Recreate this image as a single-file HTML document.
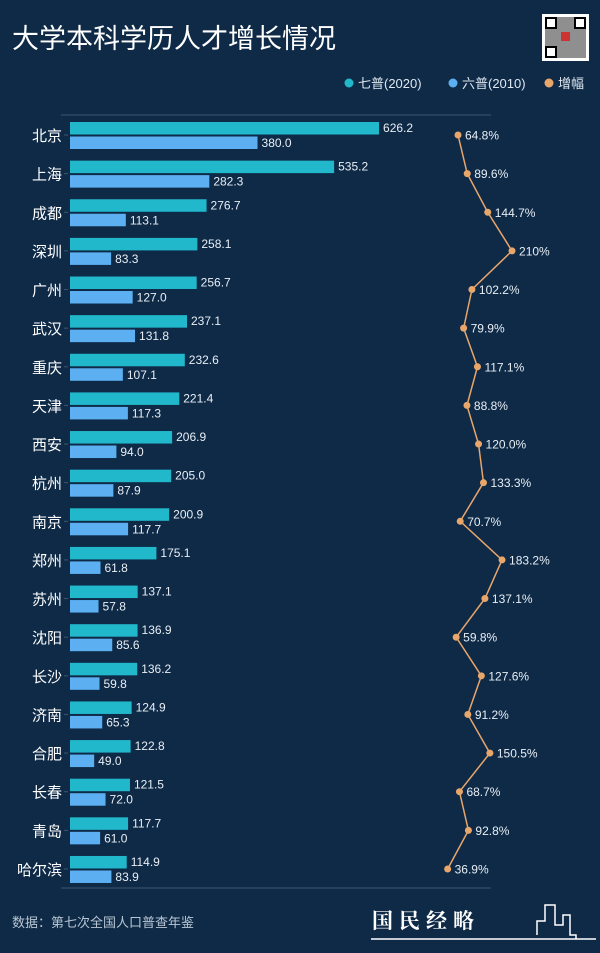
<!DOCTYPE html>
<html><head><meta charset="utf-8">
<style>
html,body{margin:0;padding:0;background:#0e2a47;}
body{width:600px;height:948px;overflow:hidden;font-family:"Liberation Sans","Noto Sans CJK SC",sans-serif;}
</style></head>
<body>
<svg width="600" height="948" xmlns="http://www.w3.org/2000/svg" id="chart">
<rect x="0" y="0" width="600" height="948" fill="#0e2a47"/>
<text x="12" y="48" fill="#ffffff" font-size="27" font-family="Noto Sans CJK SC, sans-serif">大学本科学历人才增长情况</text>
<g>
<rect x="542" y="14" width="47" height="47" fill="#fff"/>
<rect x="545" y="17" width="41" height="41" fill="#333" opacity="0.55"/>
<rect x="546" y="18" width="10" height="10" fill="#fff" stroke="#000" stroke-width="2"/>
<rect x="575" y="18" width="10" height="10" fill="#fff" stroke="#000" stroke-width="2"/>
<rect x="546" y="47" width="10" height="10" fill="#fff" stroke="#000" stroke-width="2"/>
<rect x="561" y="32" width="9" height="9" fill="#c33"/>
</g>
<g font-size="13" fill="#dfe8f0">
<g><circle cx="349" cy="83" r="4.5" fill="#22b8cc"/><text x="358" y="88">七普(2020)</text></g>
<g><circle cx="453" cy="83" r="4.5" fill="#5cb0f2"/><text x="462" y="88">六普(2010)</text></g>
<g><circle cx="549" cy="83" r="4.5" fill="#e9a66b"/><text x="558" y="88">增幅</text></g>
</g>
<line x1="61" y1="115" x2="491" y2="115" stroke="#3b5670" stroke-width="1"/>
<line x1="61" y1="888" x2="491" y2="888" stroke="#3b5670" stroke-width="1"/>
<g id="bars"></g>
<g id="growth"></g>
<text x="12" y="927" fill="#b9c6d3" font-size="13">数据：第七次全国人口普查年鉴</text>
<g>
<text x="372" y="928" fill="#ffffff" font-size="21" font-weight="bold" letter-spacing="6" font-family="Noto Serif CJK SC, serif">国民经略</text>
<line x1="371" y1="939" x2="596" y2="939" stroke="#fff" stroke-width="1.5"/>
<polyline points="537,935 537,921 545,921 545,905 555,905 555,925 563,925 563,915 570,915 570,935 576,935 576,939" fill="none" stroke="#fff" stroke-width="1.5"/>
</g>
</svg>
<script>
const cities=["北京","上海","成都","深圳","广州","武汉","重庆","天津","西安","杭州","南京","郑州","苏州","沈阳","长沙","济南","合肥","长春","青岛","哈尔滨"];
const v2020=[626.2,535.2,276.7,258.1,256.7,237.1,232.6,221.4,206.9,205.0,200.9,175.1,137.1,136.9,136.2,124.9,122.8,121.5,117.7,114.9];
const v2010=[380.0,282.3,113.1,83.3,127.0,131.8,107.1,117.3,94.0,87.9,117.7,61.8,57.8,85.6,59.8,65.3,49.0,72.0,61.0,83.9];
const growth=[64.8,89.6,144.7,210,102.2,79.9,117.1,88.8,120.0,133.3,70.7,183.2,137.1,59.8,127.6,91.2,150.5,68.7,92.8,36.9];
const growthLabels=["64.8%","89.6%","144.7%","210%","102.2%","79.9%","117.1%","88.8%","120.0%","133.3%","70.7%","183.2%","137.1%","59.8%","127.6%","91.2%","150.5%","68.7%","92.8%","36.9%"];

const NS="http://www.w3.org/2000/svg";
const x0=70, pxPerUnit=0.4935;
function xBar(v){return x0+v*pxPerUnit;}
function yRow(i){return 135+i*38.63;}
function xGrowth(v){return 433.9+v*0.372;}
function mk(tag,attrs,parent){const e=document.createElementNS(NS,tag);for(const k in attrs)e.setAttribute(k,attrs[k]);parent.appendChild(e);return e;}
const bars=document.getElementById('bars');
const gg=document.getElementById('growth');
cities.forEach((c,i)=>{
  const y=yRow(i);
  const lab=mk('text',{x:62,y:y+6,'text-anchor':'end',fill:'#ffffff','font-size':15},bars);
  lab.textContent=c;
  
  
  mk('line',{x1:64,y1:y,x2:68,y2:y,stroke:'#3b5670'},bars);
  const b1=mk('rect',{x:x0,y:y-13,width:xBar(v2020[i])-x0,height:12.5,fill:'#22b8cc'},bars);
  
  
  const t1=mk('text',{x:xBar(v2020[i])+4,y:y-3,fill:'#e8eef4','font-size':12},bars);
  t1.textContent=v2020[i].toFixed(1);
  
  
  const b2=mk('rect',{x:x0,y:y+1.5,width:xBar(v2010[i])-x0,height:12.5,fill:'#5cb0f2'},bars);
  
  
  const t2=mk('text',{x:xBar(v2010[i])+4,y:y+12,fill:'#e8eef4','font-size':12},bars);
  t2.textContent=v2010[i].toFixed(1);
  
  
});
const pts=growth.map((g,i)=>xGrowth(g)+','+yRow(i)).join(' ');
const pl=mk('polyline',{points:pts,fill:'none',stroke:'#e9a66b','stroke-width':1.5},gg);


growth.forEach((g,i)=>{
  const c=mk('circle',{cx:xGrowth(g),cy:yRow(i),r:3.5,fill:'#e9a66b'},gg);
  
  
  const t=mk('text',{x:xGrowth(g)+7,y:yRow(i)+4.5,fill:'#e8eef4','font-size':12},gg);
  t.textContent=growthLabels[i];
  
  
});
</script>
</body></html>
